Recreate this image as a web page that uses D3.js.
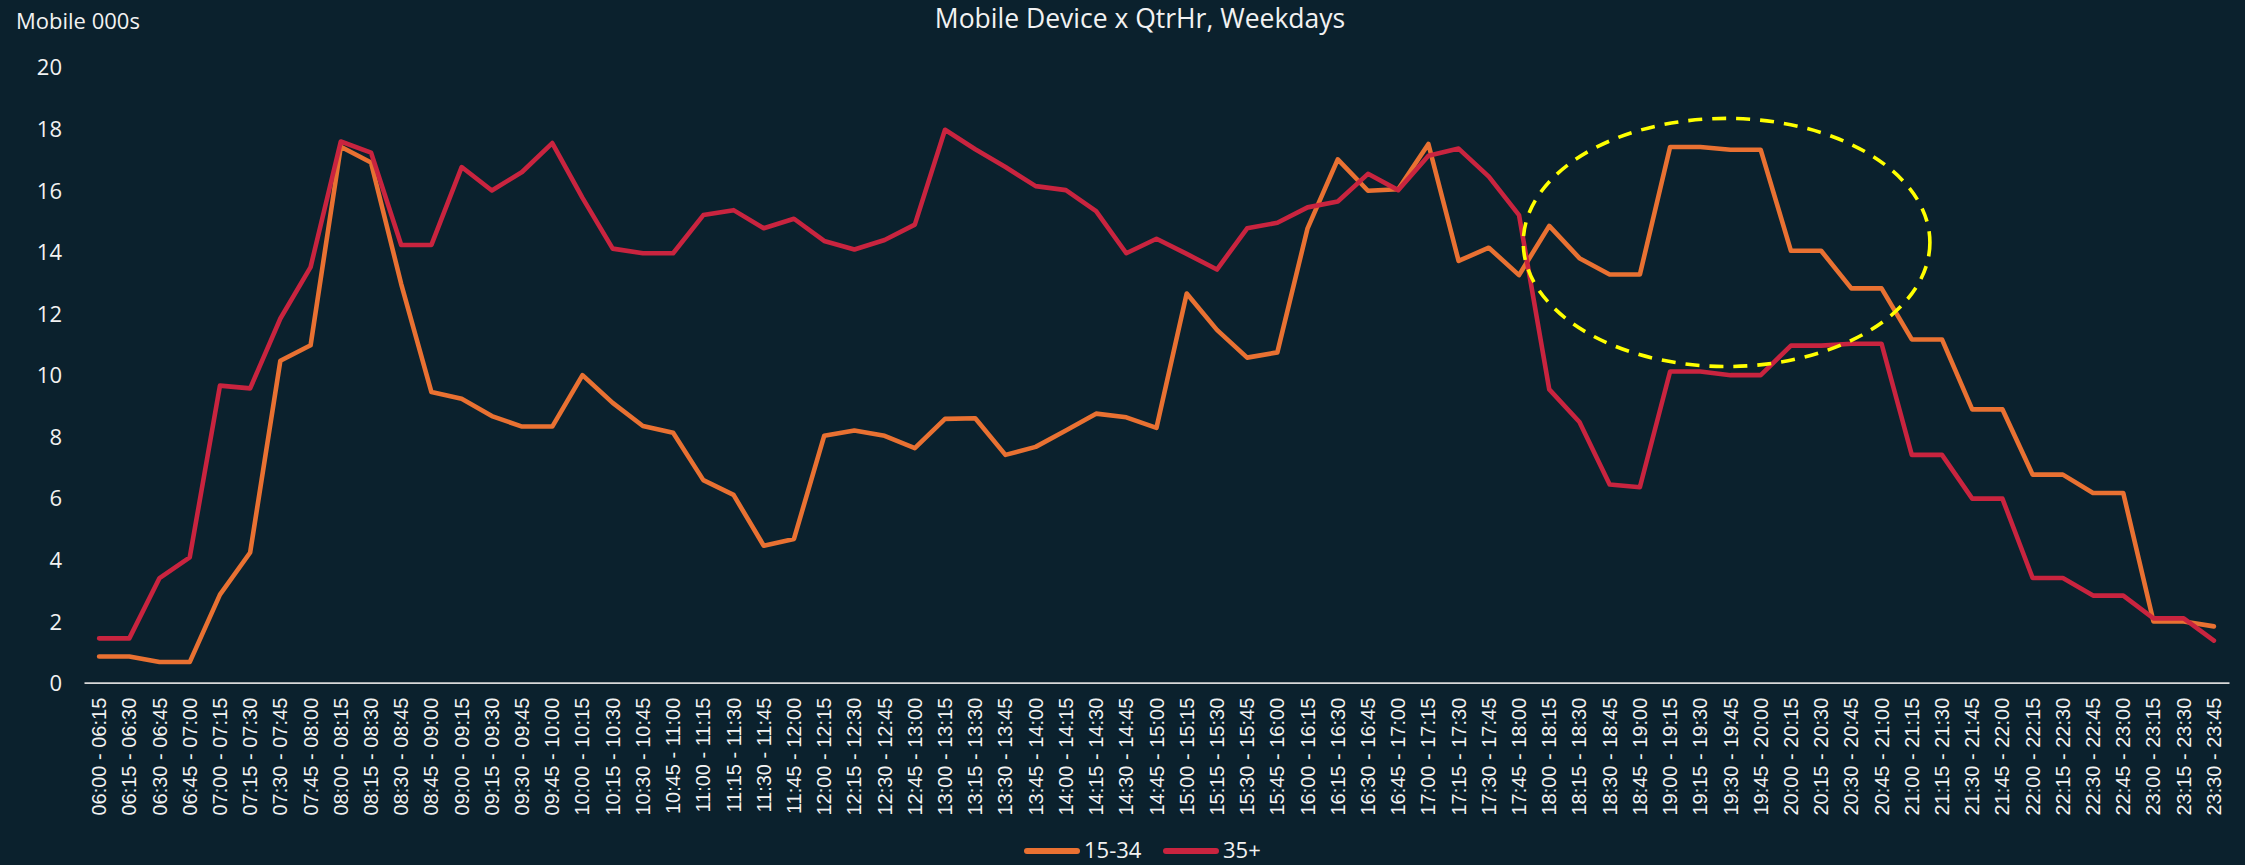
<!DOCTYPE html>
<html>
<head>
<meta charset="utf-8">
<script src="https://cdn.jsdelivr.net/npm/d3@7"></script>
<style>
  html, body { margin: 0; padding: 0; background: #0b212d; }
  svg { display: block; }
</style>
</head>
<body>
<svg id="chart" width="2245" height="865"></svg>
<script>
// Quarter-hour slots, 06:00 to 23:45
const quarterHours = [
  "06:00 - 06:15", "06:15 - 06:30", "06:30 - 06:45", "06:45 - 07:00",
  "07:00 - 07:15", "07:15 - 07:30", "07:30 - 07:45", "07:45 - 08:00",
  "08:00 - 08:15", "08:15 - 08:30", "08:30 - 08:45", "08:45 - 09:00",
  "09:00 - 09:15", "09:15 - 09:30", "09:30 - 09:45", "09:45 - 10:00",
  "10:00 - 10:15", "10:15 - 10:30", "10:30 - 10:45", "10:45 - 11:00",
  "11:00 - 11:15", "11:15 - 11:30", "11:30 - 11:45", "11:45 - 12:00",
  "12:00 - 12:15", "12:15 - 12:30", "12:30 - 12:45", "12:45 - 13:00",
  "13:00 - 13:15", "13:15 - 13:30", "13:30 - 13:45", "13:45 - 14:00",
  "14:00 - 14:15", "14:15 - 14:30", "14:30 - 14:45", "14:45 - 15:00",
  "15:00 - 15:15", "15:15 - 15:30", "15:30 - 15:45", "15:45 - 16:00",
  "16:00 - 16:15", "16:15 - 16:30", "16:30 - 16:45", "16:45 - 17:00",
  "17:00 - 17:15", "17:15 - 17:30", "17:30 - 17:45", "17:45 - 18:00",
  "18:00 - 18:15", "18:15 - 18:30", "18:30 - 18:45", "18:45 - 19:00",
  "19:00 - 19:15", "19:15 - 19:30", "19:30 - 19:45", "19:45 - 20:00",
  "20:00 - 20:15", "20:15 - 20:30", "20:30 - 20:45", "20:45 - 21:00",
  "21:00 - 21:15", "21:15 - 21:30", "21:30 - 21:45", "21:45 - 22:00",
  "22:00 - 22:15", "22:15 - 22:30", "22:30 - 22:45", "22:45 - 23:00",
  "23:00 - 23:15", "23:15 - 23:30", "23:30 - 23:45"
];

// Mobile audience, thousands
const age15to34 = [
  0.85, 0.85, 0.67, 0.67, 2.86, 4.23, 10.46, 10.96, 17.41, 16.90, 12.95, 9.44,
  9.22, 8.66, 8.32, 8.32, 9.99, 9.09, 8.34, 8.12, 6.58, 6.10, 4.45, 4.67,
  8.02, 8.19, 8.02, 7.62, 8.57, 8.59, 7.40, 7.66, 8.19, 8.74, 8.62, 8.28,
  12.64, 11.46, 10.56, 10.73, 14.76, 17.00, 15.98, 16.03, 17.50, 13.70, 14.13, 13.24,
  14.84, 13.79, 13.26, 13.26, 17.40, 17.40, 17.31, 17.31, 14.03, 14.03, 12.81, 12.81,
  11.15, 11.15, 8.88, 8.88, 6.76, 6.76, 6.16, 6.16, 1.99, 1.99, 1.83
];
const age35plus = [
  1.44, 1.44, 3.40, 4.07, 9.65, 9.56, 11.83, 13.50, 17.58, 17.22, 14.22, 14.22,
  16.75, 15.99, 16.59, 17.53, 15.75, 14.10, 13.95, 13.95, 15.19, 15.35, 14.76, 15.07,
  14.35, 14.07, 14.38, 14.88, 17.96, 17.33, 16.75, 16.13, 16.00, 15.32, 13.95, 14.42,
  13.93, 13.42, 14.76, 14.94, 15.44, 15.63, 16.53, 16.00, 17.12, 17.35, 16.44, 15.19,
  9.53, 8.47, 6.44, 6.35, 10.11, 10.11, 9.99, 9.99, 10.95, 10.95, 11.01, 11.01,
  7.40, 7.40, 5.98, 5.98, 3.40, 3.40, 2.83, 2.83, 2.09, 2.09, 1.37
];

const seriesNames = ["15-34", "35+"];
const yTicks = [0, 2, 4, 6, 8, 10, 12, 14, 16, 18, 20];

// Evening highlight: centre (slot index, value) and half extents (slots, value)
const highlightCentre = [53.87, 14.3];
const highlightRadius = [6.73, 4.03];

const W = 2245, H = 865;
const margin = { top: 67, right: 16, bottom: 183, left: 84 };
const bg = "#0b212d";
const colors = ["#e97132", "#c9243f"];
const textColor = "#f2f2f2";
const uiFont = "'Open Sans', 'Noto Sans', sans-serif";

const svg = d3.select("#chart");
svg.append("rect").attr("width", W).attr("height", H).attr("fill", bg);

const x = d3.scaleBand()
  .domain(quarterHours)
  .range([margin.left, W - margin.right])
  .paddingInner(0).paddingOuter(0);

const y = d3.scaleLinear()
  .domain([0, 20])
  .range([H - margin.bottom + 0.7, margin.top]);

const xCentre = d => x(d) + x.bandwidth() / 2;
// slot index -> pixel, for positions between slots
const xIndex = d3.scaleLinear()
  .domain([0, quarterHours.length - 1])
  .range([xCentre(quarterHours[0]), xCentre(quarterHours[quarterHours.length - 1])]);

// Title
svg.append("text")
  .attr("x", 1140).attr("y", 28)
  .attr("text-anchor", "middle")
  .attr("font-family", uiFont).attr("font-size", 26.5)
  .attr("fill", textColor)
  .text("Mobile Device x QtrHr, Weekdays");

// Axis title
svg.append("text")
  .attr("x", 16).attr("y", 29)
  .attr("font-family", uiFont).attr("font-size", 22)
  .attr("fill", textColor)
  .text("Mobile 000s");

// Y axis (labels only)
const yAxis = d3.axisLeft(y).tickValues(yTicks).tickSize(0).tickPadding(0);
const gy = svg.append("g")
  .attr("transform", `translate(62,0)`)
  .call(yAxis);
gy.select(".domain").remove();
gy.selectAll("text")
  .attr("font-family", uiFont).attr("font-size", 22)
  .attr("fill", textColor)
  .attr("dy", "0.36em");

// X axis
const xAxis = d3.axisBottom(x).tickSize(0).tickPadding(0);
const gx = svg.append("g")
  .attr("transform", `translate(0,${y(0)})`)
  .call(xAxis);
gx.select(".domain")
  .attr("stroke", "#d9d9d9").attr("stroke-width", 1.8);
gx.selectAll("text")
  .attr("font-family", "'Liberation Sans', Arial, sans-serif")
  .attr("font-size", 20)
  .attr("fill", textColor)
  .attr("text-anchor", "end")
  .attr("transform", "translate(0,15) rotate(-90)")
  .attr("x", 0).attr("y", 0)
  .attr("dy", "0.35em");

// Lines
const line = d3.line()
  .x((d, i) => xCentre(quarterHours[i]))
  .y(d => y(d));

[age15to34, age35plus].forEach((values, k) => {
  svg.append("path")
    .datum(values)
    .attr("fill", "none")
    .attr("stroke", colors[k])
    .attr("stroke-width", 4.6)
    .attr("stroke-linejoin", "round")
    .attr("stroke-linecap", "round")
    .attr("d", line);
});

// Dashed highlight around the evening peak
const cx = xIndex(highlightCentre[0]);
const cy = y(highlightCentre[1]);
svg.append("ellipse")
  .attr("cx", cx).attr("cy", cy)
  .attr("rx", xIndex(highlightCentre[0] + highlightRadius[0]) - cx)
  .attr("ry", y(highlightCentre[1] - highlightRadius[1]) - cy)
  .attr("fill", "none")
  .attr("stroke", "#ffff00")
  .attr("stroke-width", 3.6)
  .attr("stroke-dasharray", "14,10");

// Legend
const legendItems = [
  { name: seriesNames[0], color: colors[0], x: 1024 },
  { name: seriesNames[1], color: colors[1], x: 1163 }
];
const lg = svg.append("g");
legendItems.forEach(item => {
  lg.append("line")
    .attr("x1", item.x + 3).attr("x2", item.x + 53)
    .attr("y1", 851).attr("y2", 851)
    .attr("stroke", item.color).attr("stroke-width", 6)
    .attr("stroke-linecap", "round");
  lg.append("text")
    .attr("x", item.x + 60).attr("y", 858)
    .attr("font-family", uiFont).attr("font-size", 22)
    .attr("fill", textColor)
    .text(item.name);
});
</script>
</body>
</html>
